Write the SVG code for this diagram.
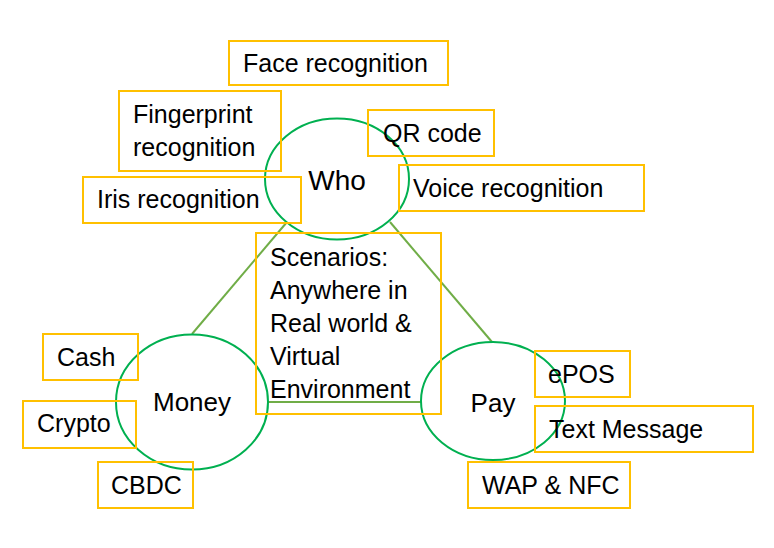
<svg xmlns="http://www.w3.org/2000/svg" width="774" height="548" viewBox="0 0 774 548">
<style>
.box{fill:none;stroke:#FFC000;stroke-width:2}
.circ{fill:none;stroke:#00B050;stroke-width:2}
.conn{fill:none;stroke:#70AD47;stroke-width:2}
text{font-family:"Liberation Sans",Arial,sans-serif;font-size:25px;fill:#000}
.c{text-anchor:middle;font-size:26px}
</style>
<rect width="774" height="548" fill="#fff"/>
<g id="connectors">
<line class="conn" x1="287" y1="222" x2="192" y2="334"/>
<line class="conn" x1="390" y1="222" x2="492" y2="342"/>
<line class="conn" x1="268" y1="402" x2="421" y2="402"/>
</g>
<g id="who"><ellipse class="circ" cx="337" cy="179" rx="72" ry="60.5"/><text class="c" x="337" y="190" style="font-size:28px">Who</text></g>
<g id="money"><ellipse class="circ" cx="192" cy="402" rx="76" ry="67.5"/><text class="c" x="192" y="411">Money</text></g>
<g id="pay"><ellipse class="circ" cx="493" cy="401" rx="72" ry="59"/><text class="c" x="493" y="412">Pay</text></g>
<g id="scenarios"><rect class="box" x="256" y="233" width="185" height="181"/>
<text x="270" y="266">Scenarios:</text>
<text x="270" y="299">Anywhere in</text>
<text x="270" y="332">Real world &amp;</text>
<text x="270" y="365">Virtual</text>
<text x="270" y="398">Environment</text></g>
<g id="face"><rect class="box" x="229" y="41" width="219" height="44"/><text x="243" y="72">Face recognition</text></g>
<g id="fingerprint"><rect class="box" x="119" y="91" width="162" height="80"/><text x="133" y="123">Fingerprint</text><text x="133" y="156">recognition</text></g>
<g id="iris"><rect class="box" x="83" y="177" width="218" height="46"/><text x="97" y="208">Iris recognition</text></g>
<g id="qr"><rect class="box" x="368" y="110" width="126" height="46"/><text x="383" y="142">QR code</text></g>
<g id="voice"><rect class="box" x="399" y="165" width="245" height="46"/><text x="413" y="197">Voice recognition</text></g>
<g id="cash"><rect class="box" x="43" y="334" width="95" height="46"/><text x="57" y="366">Cash</text></g>
<g id="crypto"><rect class="box" x="23" y="401" width="113" height="47"/><text x="37" y="432">Crypto</text></g>
<g id="cbdc"><rect class="box" x="98" y="462" width="95" height="46"/><text x="111" y="494">CBDC</text></g>
<g id="epos"><rect class="box" x="535" y="351" width="95" height="46"/><text x="548" y="383">ePOS</text></g>
<g id="textmsg"><rect class="box" x="535" y="406" width="218" height="46"/><text x="549" y="438">Text Message</text></g>
<g id="wap"><rect class="box" x="468" y="462" width="162" height="46"/><text x="482" y="494">WAP &amp; NFC</text></g>
</svg>
